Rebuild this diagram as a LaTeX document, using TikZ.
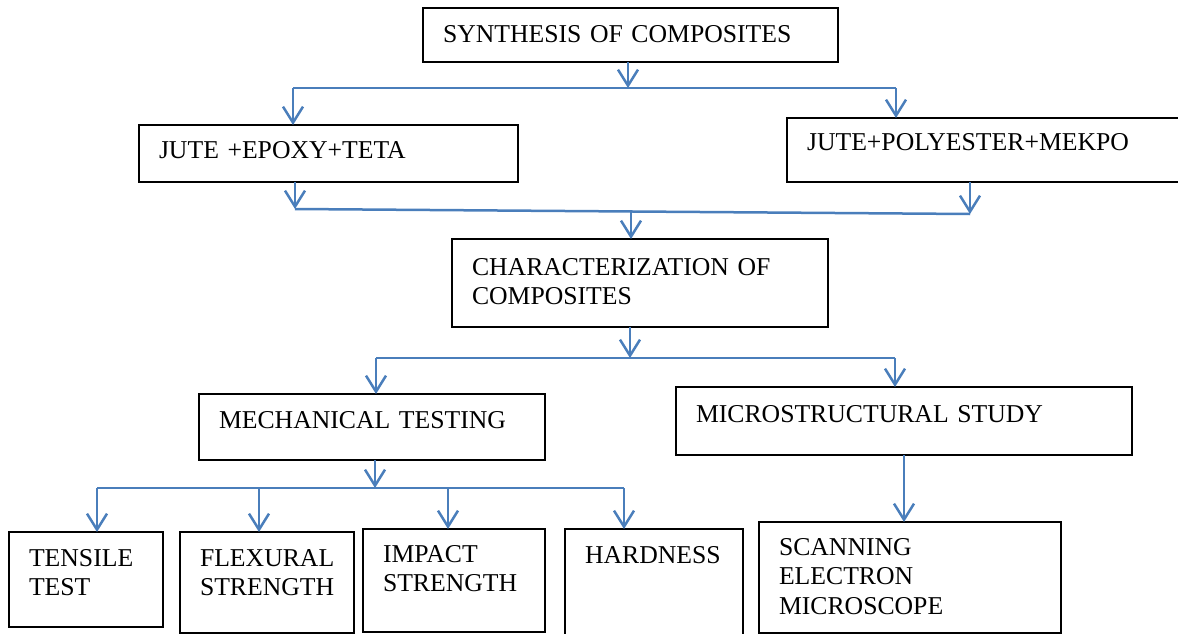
\documentclass[tikz,border=0pt]{standalone}
\usepackage{fontspec}
\setmainfont{Liberation Serif}
\usetikzlibrary{arrows.meta, positioning, calc}
\usepackage{xcolor}
\definecolor{linkblue}{RGB}{74,126,187}

\begin{document}
\begin{tikzpicture}[
    x=1pt, y=-1pt,
    box/.style={rectangle, draw, line width=1.3pt, anchor=north west, outer sep=0pt,
        inner xsep=20pt, inner ysep=0pt, align=left,
        font=\fontsize{25.7}{29.5}\selectfont},
    arrow/.style={-{Straight Barb[length=16pt, width=20pt]}, line width=2.5pt, draw=linkblue},
    link/.style={line width=2.5pt, draw=linkblue}
]
    \path[use as bounding box, clip] (0,0) rectangle (1178,634);

    % boxes
    \node[box, text width=375pt, text height=35pt, text depth=19pt] (synth) at (423,8) {SYNTHESIS OF COMPOSITES};
    \node[box, text width=339pt, text height=33pt, text depth=24pt] (epoxy) at (139,125) {JUTE +EPOXY+TETA};
    \node[box, text width=363pt, text height=32pt, text depth=32pt] (poly) at (787,118) {JUTE+POLYESTER+MEKPO};
    \node[box, text width=336pt, text height=36pt, text depth=52pt] (charz) at (452,239) {CHARACTERIZATION OF\\COMPOSITES};
    \node[box, text width=306pt, text height=34pt, text depth=32pt] (mech) at (199,394) {MECHANICAL TESTING};
    \node[box, text width=416pt, text height=35pt, text depth=33pt] (micro) at (676,387) {MICROSTRUCTURAL STUDY};
    \node[box, text width=114pt, text height=34pt, text depth=61pt] (tensile) at (9,532) {TENSILE\\TEST};
    \node[box, text width=134pt, text height=34pt, text depth=67pt] (flex) at (180,532) {FLEXURAL\\STRENGTH};
    \node[box, text width=142pt, text height=33pt, text depth=70pt] (impact) at (363,529) {IMPACT\\STRENGTH};
    \node[box, text width=138pt, text height=34pt, text depth=87pt] (hard) at (565,529) {HARDNESS};
    \node[box, text width=262pt, text height=33pt, text depth=78pt] (sem) at (759,522) {SCANNING\\ELECTRON\\MICROSCOPE};

    % junction points
    \coordinate (j1) at (628,88);
    \coordinate (b1l) at (293,88);
    \coordinate (b1r) at (896,88);
    \coordinate (b2l) at (295,209);
    \coordinate (b2r) at (970,214);
    \coordinate (j2) at (631,211);
    \coordinate (j3) at (630,358);
    \coordinate (b3l) at (376,358);
    \coordinate (b3r) at (895,358);
    \coordinate (j4) at (375,488);
    \coordinate (b4a) at (97,488);
    \coordinate (b4b) at (259,488);
    \coordinate (b4c) at (448,488);
    \coordinate (b4d) at (624,488);

    % synthesis
    \draw[arrow] (synth.south -| j1) -- (j1);
    \draw[link] (b1l) -- (b1r);
    \draw[arrow] (b1l) -- (b1l |- epoxy.north);
    \draw[arrow] (b1r) -- (b1r |- poly.north);

    % characterization
    \draw[arrow] (epoxy.south -| b2l) -- (b2l);
    \draw[arrow] (poly.south -| b2r) -- (b2r);
    \draw[link] (b2l) -- (b2r);
    \draw[arrow] (j2) -- (j2 |- charz.north);

    \draw[arrow] (charz.south -| j3) -- (j3);
    \draw[link] (b3l) -- (b3r);
    \draw[arrow] (b3l) -- (b3l |- mech.north);
    \draw[arrow] (b3r) -- (b3r |- micro.north);

    % tests
    \draw[arrow] (mech.south -| j4) -- (j4);
    \draw[link] (b4a) -- (b4d);
    \draw[arrow] (b4a) -- (b4a |- tensile.north);
    \draw[arrow] (b4b) -- (b4b |- flex.north);
    \draw[arrow] (b4c) -- (b4c |- impact.north);
    \draw[arrow] (b4d) -- (b4d |- hard.north);

    \draw[arrow] (micro.south) -- (micro.south |- sem.north);
\end{tikzpicture}
\end{document}
